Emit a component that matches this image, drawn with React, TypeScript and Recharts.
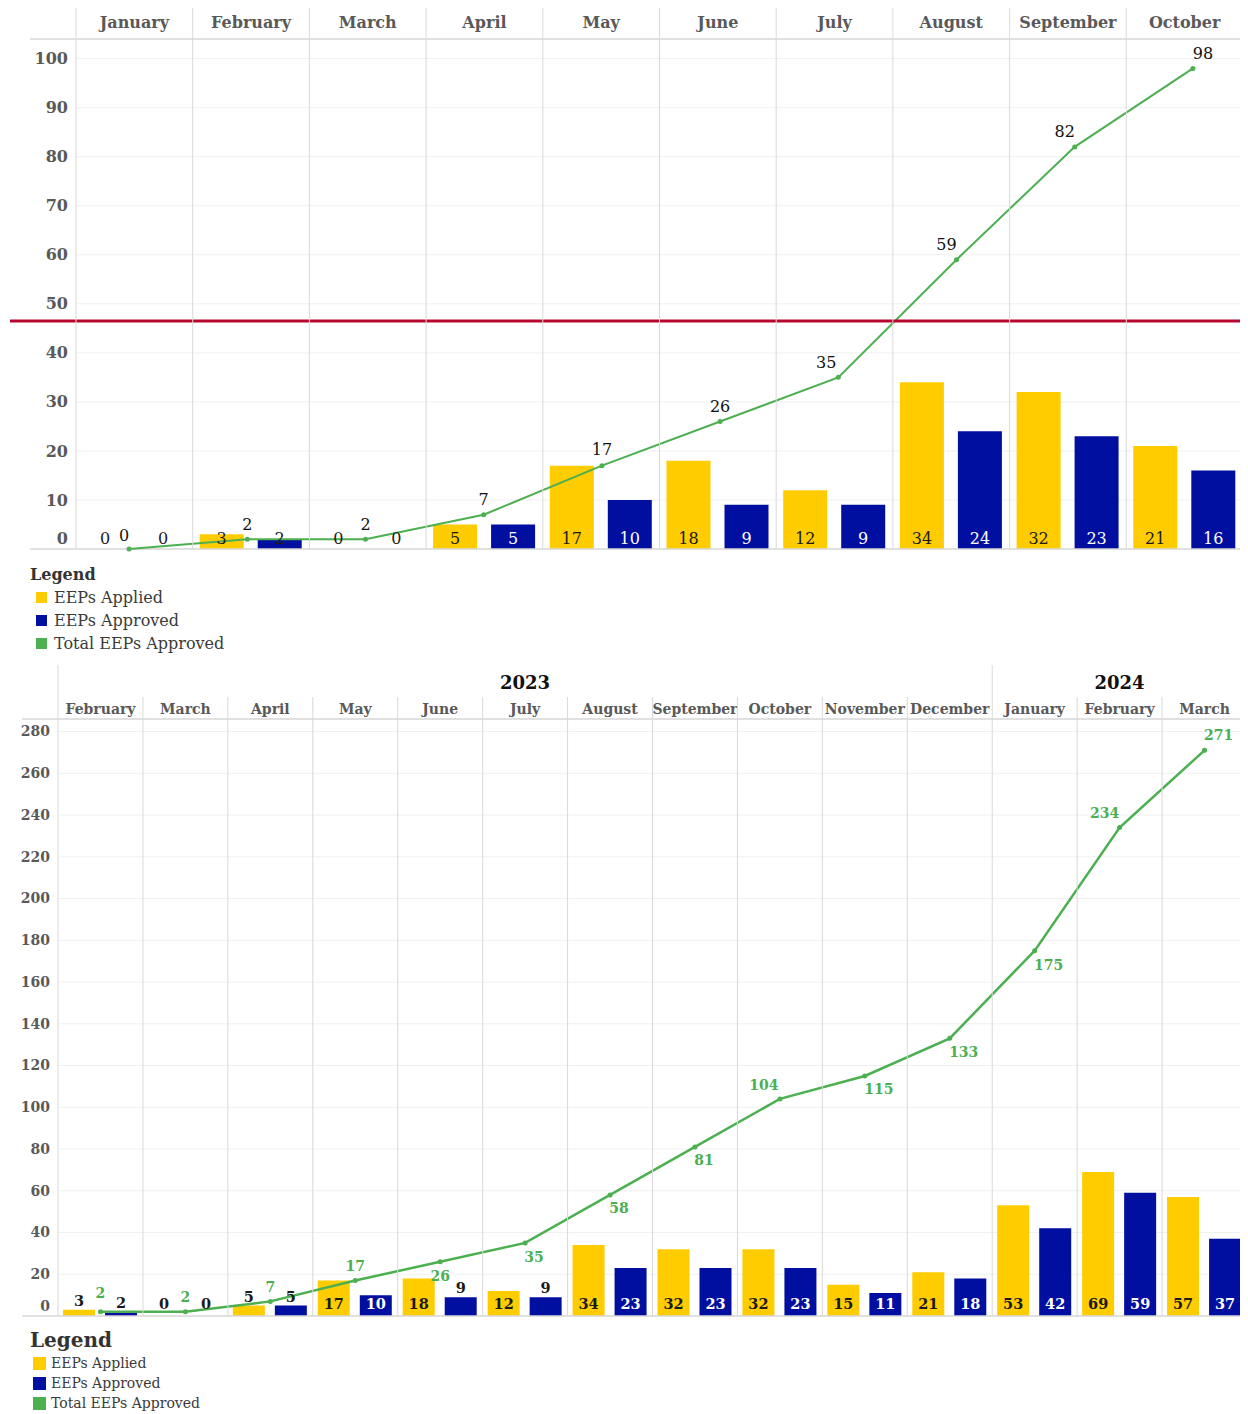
import React from 'react';
import { ComposedChart, Bar, Line, XAxis, YAxis, CartesianGrid, LabelList, ReferenceLine } from 'recharts';

// ---- top chart data ----
const topMonths = ['January', 'February', 'March', 'April', 'May', 'June', 'July', 'August', 'September', 'October'];
const topApplied = [0, 3, 0, 5, 17, 18, 12, 34, 32, 21];
const topApproved = [0, 2, 0, 5, 10, 9, 9, 24, 23, 16];
const topTotal = [0, 2, 2, 7, 17, 26, 35, 59, 82, 98];
const topYTicks = [0, 10, 20, 30, 40, 50, 60, 70, 80, 90, 100];
const topBreakValue = 46.5;

// ---- bottom chart data ----
const bottomMonths = ['February', 'March', 'April', 'May', 'June', 'July', 'August', 'September', 'October', 'November', 'December', 'January', 'February', 'March'];
const bottomYears = ['2023', '2023', '2023', '2023', '2023', '2023', '2023', '2023', '2023', '2023', '2023', '2024', '2024', '2024'];
const bottomApplied = [3, 0, 5, 17, 18, 12, 34, 32, 32, 15, 21, 53, 69, 57];
const bottomApproved = [2, 0, 5, 10, 9, 9, 23, 23, 23, 11, 18, 42, 59, 37];
const bottomTotal = [2, 2, 7, 17, 26, 35, 58, 81, 104, 115, 133, 175, 234, 271];
const bottomYTicks = [0, 20, 40, 60, 80, 100, 120, 140, 160, 180, 200, 220, 240, 260, 280];

const seriesNames = ['EEPs Applied', 'EEPs Approved', 'Total EEPs Approved'];

const topData = topMonths.map((m, i) => ({ month: m, applied: topApplied[i], approved: topApproved[i], total: topTotal[i] }));
const bottomData = bottomMonths.map((m, i) => ({
  key: `${m} ${bottomYears[i]}`,
  applied: bottomApplied[i],
  approved: bottomApproved[i],
  total: bottomTotal[i],
}));

// label nudges (dx, dy) for the cumulative line, per point
const topLineLabelNudge = [[-5, -14], [0, -15], [0, -15], [0, -15], [0, -16], [0, -15], [-12, -15], [-10, -15], [-10, -15], [10, -15]];
const bottomLineLabelNudge = [[0, -19], [0, -15], [0, -14], [0, -14], [0, 14], [9, 14], [9, 13], [9, 13], [-16, -14], [14, 13], [14, 14], [14, 14], [-15, -14], [14, -15]];

const YELLOW = '#FFCC00';
const BLUE = '#000F9F';
const GREEN = '#4CAF50';
const RED = '#B8072F';
const AXIS_TEXT = '#595959';
const DIVIDER = '#d9d9d9';
const FONT = '"DejaVu Serif", serif';
const colors = [YELLOW, BLUE, GREEN];

// layout
const W = 1248;
const TOP_H = 560;
const TOP_Y_W = 76;
const TOP_RIGHT = 5;
const TOP_BAND = (W - TOP_Y_W - TOP_RIGHT) / topMonths.length;
const TOP_PLOT_BOTTOM = 549;

const BOT_H = 662;
const BOT_Y_W = 58;
const BOT_RIGHT = 1;
const BOT_BAND = (W - BOT_Y_W - BOT_RIGHT) / bottomMonths.length;
const BOT_PLOT_BOTTOM = 656;

function TopMonthTick(props: any) {
  const { x, index, payload } = props;
  const half = TOP_BAND / 2;
  return (
    <g>
      <line x1={x - half} x2={x - half} y1={5} y2={TOP_PLOT_BOTTOM} stroke={DIVIDER} />
      {index === topMonths.length - 1 && (
        <line x1={x + half} x2={x + half} y1={5} y2={TOP_PLOT_BOTTOM} stroke={DIVIDER} />
      )}
      {index === 0 && <line x1={30} x2={W - TOP_RIGHT} y1={39} y2={39} stroke={DIVIDER} strokeWidth={1.5} />}
      <text x={x} y={22} dy="0.35em" textAnchor="middle" fontFamily={FONT} fontWeight="bold" fontSize={16} fill={AXIS_TEXT}>
        {payload.value}
      </text>
    </g>
  );
}

function BottomMonthTick(props: any) {
  const { x, index } = props;
  const half = BOT_BAND / 2;
  const year = bottomYears[index];
  const groupStart = index === 0 || bottomYears[index - 1] !== year;
  const groupCount = bottomYears.filter((y) => y === year).length;
  return (
    <g>
      <line x1={x - half} x2={x - half} y1={groupStart ? 5 : 37} y2={BOT_PLOT_BOTTOM} stroke={DIVIDER} />
      {index === bottomMonths.length - 1 && (
        <line x1={x + half} x2={x + half} y1={5} y2={BOT_PLOT_BOTTOM} stroke={DIVIDER} />
      )}
      {index === 0 && <line x1={22} x2={W} y1={59} y2={59} stroke={DIVIDER} strokeWidth={1.5} />}
      {groupStart && (
        <text
          x={x + ((groupCount - 1) * BOT_BAND) / 2}
          y={23}
          dy="0.35em"
          textAnchor="middle"
          fontFamily={FONT}
          fontWeight="bold"
          fontSize={18}
          fill="#111"
        >
          {year}
        </text>
      )}
      <text x={x} y={49} dy="0.35em" textAnchor="middle" fontFamily={FONT} fontWeight="bold" fontSize={14} fill={AXIS_TEXT}>
        {bottomMonths[index]}
      </text>
    </g>
  );
}

const yTick = (fontSize: number, zeroLift: number) => (props: any) => {
  const { x, y, payload } = props;
  return (
    <text
      x={x}
      y={payload.value === 0 ? y - zeroLift : y}
      dy="0.35em"
      textAnchor="end"
      fontFamily={FONT}
      fontWeight="bold"
      fontSize={fontSize}
      fill={AXIS_TEXT}
    >
      {payload.value}
    </text>
  );
};

function barBox(p: any) {
  const x = p.x ?? p.viewBox?.x;
  const y = p.y ?? p.viewBox?.y;
  const w = p.width ?? p.viewBox?.width ?? 0;
  const h = p.height ?? p.viewBox?.height ?? 0;
  return { cx: x + w / 2, top: Math.min(y, y + h), bottom: Math.max(y, y + h) };
}

const topBarLabel = (onBlue: boolean) => (p: any) => {
  const { cx, bottom } = barBox(p);
  const v = Number(p.value);
  const fill = onBlue && v >= 3 ? '#ffffff' : '#1a1a1a';
  return (
    <text x={cx} y={bottom - 11} dy="0.35em" textAnchor="middle" fontFamily={FONT} fontSize={16} fill={fill}>
      {v}
    </text>
  );
};

const bottomBarLabel = (onBlue: boolean) => (p: any) => {
  const { cx, top, bottom } = barBox(p);
  const v = Number(p.value);
  const small = v < 10;
  const y = small ? Math.min(top - 9, bottom - 12) : bottom - 12;
  const fill = !small && onBlue ? '#ffffff' : '#1a1a1a';
  return (
    <text x={cx} y={y} dy="0.35em" textAnchor="middle" fontFamily={FONT} fontWeight="bold" fontSize={14.5} fill={fill}>
      {v}
    </text>
  );
};

const lineLabel = (nudge: number[][], bold: boolean, color: string, size: number) => (p: any) => {
  const [dx, dy] = nudge[p.index] || [0, -14];
  return (
    <text
      x={p.x + dx}
      y={p.y + dy}
      dy="0.35em"
      textAnchor="middle"
      fontFamily={FONT}
      fontWeight={bold ? 'bold' : 'normal'}
      fontSize={size}
      fill={color}
    >
      {p.value}
    </text>
  );
};

function ChartLegend({ titleSize, textSize, box, rowH, titleH, boxLeft, gap }: any) {
  return (
    <div style={{ fontFamily: FONT, color: '#3a3a3a' }}>
      <div style={{ fontWeight: 'bold', fontSize: titleSize, lineHeight: `${titleH}px`, color: '#333' }}>Legend</div>
      {seriesNames.map((name, i) => (
        <div key={name} style={{ display: 'flex', alignItems: 'center', height: rowH, fontSize: textSize, lineHeight: `${rowH}px` }}>
          <span style={{ width: box, height: box, background: colors[i], marginLeft: boxLeft, marginRight: gap, display: 'inline-block' }} />
          <span>{name}</span>
        </div>
      ))}
    </div>
  );
}

export default function App() {
  return (
    <div style={{ position: 'relative', left: -8, top: -8, width: W, height: 1414, background: '#fff', fontFamily: FONT }}>
      <div style={{ position: 'absolute', left: 0, top: 0 }}>
        <ComposedChart
          width={W}
          height={TOP_H}
          data={topData}
          margin={{ top: 5, right: TOP_RIGHT, bottom: 11, left: 0 }}
          barCategoryGap={7}
          barGap={14}
        >
          <CartesianGrid vertical={false} stroke="#f0f0f0" />
          <XAxis dataKey="month" orientation="top" height={34} interval={0} axisLine={false} tickLine={false} tick={<TopMonthTick />} />
          <XAxis xAxisId="line" dataKey="month" hide padding={{ left: -6, right: -9 }} />
          <YAxis
            width={TOP_Y_W}
            domain={[0, 104]}
            ticks={topYTicks}
            interval={0}
            axisLine={false}
            tickLine={false}
            tick={yTick(16, 11)}
          />
          <ReferenceLine
            y={0}
            stroke={DIVIDER}
            shape={(p: any) => <line x1={30} x2={p.x2} y1={p.y1} y2={p.y2} stroke={DIVIDER} strokeWidth={1.5} />}
          />
          <Bar dataKey="applied" name={seriesNames[0]} fill={YELLOW} minPointSize={0.01} isAnimationActive={false}>
            <LabelList dataKey="applied" content={topBarLabel(false)} />
          </Bar>
          <Bar dataKey="approved" name={seriesNames[1]} fill={BLUE} minPointSize={0.01} isAnimationActive={false}>
            <LabelList dataKey="approved" content={topBarLabel(true)} />
          </Bar>
          <Line
            xAxisId="line"
            dataKey="total"
            name={seriesNames[2]}
            type="linear"
            stroke={GREEN}
            strokeWidth={2}
            dot={{ r: 2.5, fill: GREEN, stroke: GREEN, strokeWidth: 0 }}
            activeDot={false}
            isAnimationActive={false}
          >
            <LabelList dataKey="total" content={lineLabel(topLineLabelNudge, false, '#111', 16)} />
          </Line>
          <ReferenceLine
            y={topBreakValue}
            stroke={RED}
            shape={(p: any) => <line x1={10} x2={W} y1={p.y1} y2={p.y2} stroke={RED} strokeWidth={3} />}
          />
        </ComposedChart>
      </div>

      <div style={{ position: 'absolute', left: 30, top: 564 }}>
        <ChartLegend titleSize={16} textSize={16} box={11} rowH={23} titleH={22} boxLeft={6} gap={7} />
      </div>

      <div style={{ position: 'absolute', left: 0, top: 660 }}>
        <ComposedChart
          width={W}
          height={BOT_H}
          data={bottomData}
          margin={{ top: 5, right: BOT_RIGHT, bottom: 6, left: 0 }}
          barCategoryGap={5}
          barGap={10}
        >
          <CartesianGrid vertical={false} stroke="#f0f0f0" />
          <XAxis dataKey="key" orientation="top" height={54} interval={0} axisLine={false} tickLine={false} tick={<BottomMonthTick />} />
          <YAxis
            width={BOT_Y_W}
            domain={[0, 286]}
            ticks={bottomYTicks}
            interval={0}
            axisLine={false}
            tickLine={false}
            tick={yTick(14, 10)}
          />
          <ReferenceLine
            y={0}
            stroke={DIVIDER}
            shape={(p: any) => <line x1={22} x2={p.x2} y1={p.y1} y2={p.y2} stroke={DIVIDER} strokeWidth={1.5} />}
          />
          <Bar dataKey="applied" name={seriesNames[0]} fill={YELLOW} minPointSize={0.01} isAnimationActive={false}>
            <LabelList dataKey="applied" content={bottomBarLabel(false)} />
          </Bar>
          <Bar dataKey="approved" name={seriesNames[1]} fill={BLUE} minPointSize={0.01} isAnimationActive={false}>
            <LabelList dataKey="approved" content={bottomBarLabel(true)} />
          </Bar>
          <Line
            dataKey="total"
            name={seriesNames[2]}
            type="linear"
            stroke={GREEN}
            strokeWidth={2.5}
            dot={{ r: 2.5, fill: GREEN, stroke: GREEN, strokeWidth: 0 }}
            activeDot={false}
            isAnimationActive={false}
          >
            <LabelList dataKey="total" content={lineLabel(bottomLineLabelNudge, true, GREEN, 14)} />
          </Line>
        </ComposedChart>
      </div>

      <div style={{ position: 'absolute', left: 30, top: 1327 }}>
        <ChartLegend titleSize={20} textSize={14} box={13} rowH={20} titleH={26} boxLeft={3} gap={5} />
      </div>
    </div>
  );
}
